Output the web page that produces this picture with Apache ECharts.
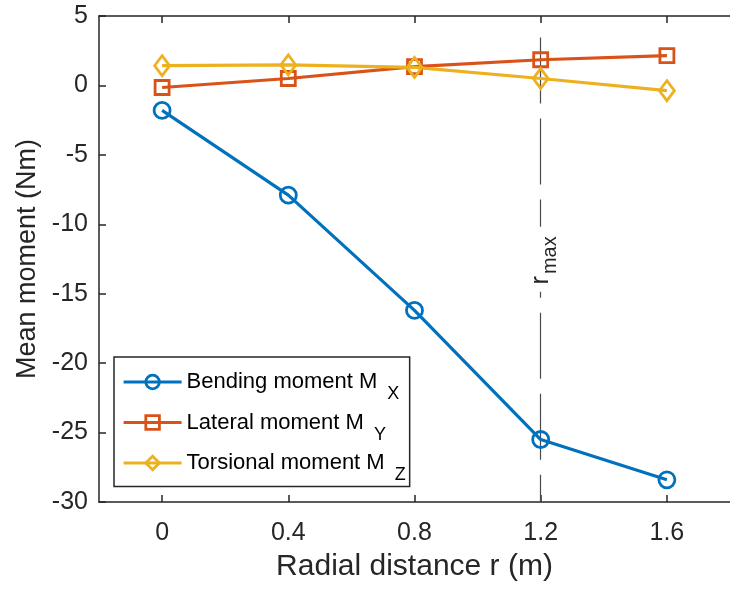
<!DOCTYPE html>
<html>
<head>
<meta charset="utf-8">
<script src="https://cdn.jsdelivr.net/npm/echarts@6/dist/echarts.min.js"></script>
<style>html,body{margin:0;padding:0;background:#fff;}#c{width:730px;height:592px;}</style>
</head>
<body>
<div id="c"></div>
<script>
var radialDistance = [0, 0.4, 0.8, 1.2, 1.6];
var bendingMx = [-1.8, -7.9, -16.2, -25.5, -28.4];
var lateralMy = [-0.15, 0.5, 1.35, 1.85, 2.15];
var torsionalMz = [1.42, 1.48, 1.3, 0.5, -0.38];
var xTicks = [0, 0.4, 0.8, 1.2, 1.6];
var yTicks = [-30, -25, -20, -15, -10, -5, 0, 5];
var seriesNames = ['Bending moment M', 'Lateral moment M', 'Torsional moment M'];
var subs = ['X', 'Y', 'Z'];
var rMax = 1.2;

var FONT = 'Liberation Sans, Arial, sans-serif';
var AX = '#262626';
var colors = ['#0072BD', '#D95319', '#EDB120'];

function pairs(vals) { return radialDistance.map(function (x, i) { return [x, vals[i]]; }); }

var chart = echarts.init(document.getElementById('c'), null, { renderer: 'canvas' });
function mk(name, vals, color, symbol, size, extra) {
  var s = {
    name: name, type: 'line', data: pairs(vals), symbol: symbol, symbolSize: size,
    showSymbol: true,
    lineStyle: { color: color, width: 3.2 },
    itemStyle: { color: 'rgba(255,255,255,0)', borderColor: color, borderWidth: 2.8 },
    emphasis: { disabled: true }, animation: false, z: 3
  };
  for (var k in extra) s[k] = extra[k];
  return s;
}

var dashLine = { color: '#4a4a4a', width: 1.2, type: [66, 15] };
var axisLineStyle = { show: true, onZero: false, lineStyle: { color: AX, width: 1.5 } };

var option = {
  backgroundColor: '#fff',
  animation: false,
  grid: { left: 99, right: -6, top: 16, bottom: 90, containLabel: false },
  xAxis: [{
    type: 'value', min: -0.2, max: 1.8, position: 'bottom',
    name: 'Radial distance r (m)', nameLocation: 'middle', nameGap: 50,
    nameTextStyle: { fontFamily: FONT, fontSize: 30, color: AX },
    axisLine: axisLineStyle,
    axisTick: { show: true, inside: true, length: 7, lineStyle: { color: AX, width: 1.5 }, customValues: xTicks },
    axisLabel: { fontFamily: FONT, fontSize: 25, color: AX, margin: 19, customValues: xTicks, formatter: function (v) { return String(v); } },
    splitLine: { show: false }
  }, {
    type: 'value', min: -0.2, max: 1.8, position: 'top',
    axisLine: axisLineStyle,
    axisTick: { show: true, inside: true, length: 7, lineStyle: { color: AX, width: 1.5 }, customValues: xTicks },
    axisLabel: { show: false },
    splitLine: { show: false }
  }],
  yAxis: [{
    type: 'value', min: -30, max: 5, interval: 5,
    name: 'Mean moment (Nm)', nameLocation: 'middle', nameGap: 58,
    nameTextStyle: { fontFamily: FONT, fontSize: 27, color: AX },
    axisLine: axisLineStyle,
    axisTick: { show: true, inside: true, length: 7, lineStyle: { color: AX, width: 1.5 } },
    axisLabel: { fontFamily: FONT, fontSize: 25, color: AX, margin: 11 },
    splitLine: { show: false }
  }],
  legend: {
    orient: 'vertical', left: 114, top: 357,
    padding: [14, 4, 2, 8],
    itemGap: 8, itemWidth: 58, itemHeight: 17, itemTextGap: 6,
    borderColor: '#262626', borderWidth: 1.5, backgroundColor: '#fff',
    lineStyle: { width: 3.2 },
    itemStyle: { borderWidth: 2.8 },
    data: seriesNames,
    formatter: function (n) { return n + '{sub|' + subs[seriesNames.indexOf(n)] + '}'; },
    textStyle: { fontFamily: FONT, fontSize: 22, color: '#000',
      rich: { sub: { fontFamily: FONT, fontSize: 18, color: '#000', padding: [25, 0, 0, 10] } } }
  },
  series: [
    mk(seriesNames[0], bendingMx, colors[0], 'circle', 16, {
      markLine: {
        silent: true, symbol: 'none', animation: false, z: 1,
        label: { show: false },
        data: [
          [{ coord: [rMax, 3.46], lineStyle: dashLine }, { coord: [rMax, -10.17] }],
          [{ coord: [rMax, -14.85], lineStyle: { color: '#4a4a4a', width: 1.2, type: [66, 15], dashOffset: 60 } }, { coord: [rMax, -30] }]
        ]
      },
      markPoint: {
        silent: true, symbol: 'circle', symbolSize: 0, animation: false,
        data: [{ coord: [rMax, -12.6] }],
        label: {
          show: true, rotate: 90, formatter: 'r{sub|max}', fontFamily: FONT, fontSize: 25, color: AX,
          rich: { sub: { fontFamily: FONT, fontSize: 20, color: AX, padding: [20, 0, 0, 2] } }
        }
      }
    }),
    mk(seriesNames[1], lateralMy, colors[1], 'rect', 14, {}),
    mk(seriesNames[2], torsionalMz, colors[2], 'diamond', [15, 20], {})
  ]
};
chart.setOption(option);
</script>
</body>
</html>
